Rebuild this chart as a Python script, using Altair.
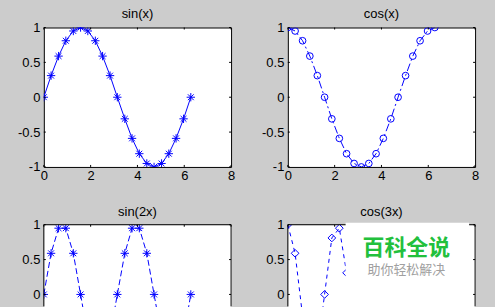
import altair as alt
import pandas as pd

# ---- data ----
x_vals = [0, 0.31, 0.63, 0.94, 1.26, 1.57, 1.88, 2.2, 2.51, 2.83, 3.14,
          3.46, 3.77, 4.08, 4.4, 4.71, 5.03, 5.34, 5.65, 5.97, 6.28]
sin_x = [0, 0.31, 0.59, 0.81, 0.95, 1, 0.95, 0.81, 0.59, 0.31, 0,
         -0.31, -0.59, -0.81, -0.95, -1, -0.95, -0.81, -0.59, -0.31, 0]
cos_x = [1, 0.95, 0.81, 0.59, 0.31, 0, -0.31, -0.59, -0.81, -0.95, -1,
         -0.95, -0.81, -0.59, -0.31, 0, 0.31, 0.59, 0.81, 0.95, 1]
sin_2x = [0, 0.59, 0.95, 0.95, 0.59, 0, -0.59, -0.95, -0.95, -0.59, 0,
          0.59, 0.95, 0.95, 0.59, 0, -0.59, -0.95, -0.95, -0.59, 0]
cos_3x = [1, 0.59, -0.31, -0.95, -0.81, 0, 0.81, 0.95, 0.31, -0.59, -1,
          -0.59, 0.31, 0.95, 0.81, 0, -0.81, -0.95, -0.31, 0.59, 1]
x_ticks = [0, 2, 4, 6, 8]
y_ticks = [-1, -0.5, 0, 0.5, 1]
titles = ["sin(x)", "cos(x)", "sin(2x)", "cos(3x)"]
watermark_title = ["百科全说"]
watermark_sub = ["助你轻松解决"]

# ---- styling ----
BLUE = "#0000ff"
BG = "#cccccc"
FONT = "Liberation Sans"
W = 188
H_TOP = 140
H_BOT = 83
PX_PER_UNIT = 70.0
TICK = 2
ASTERISK = "M-1,0L1,0M0,-1L0,1M-0.7,-0.7L0.7,0.7M-0.7,0.7L0.7,-0.7"
LABEL_EXPR = "(datum.value < 0 ? '-' : '') + format(abs(datum.value), '')"

one_row = pd.DataFrame({"k": [0]})


def panel(title, yvals, shape, msize, dash, top_row, title_offset, extras=()):
    h = H_TOP if top_row else H_BOT
    ydom = [-1, 1] if top_row else [1 - H_BOT / PX_PER_UNIT, 1]
    df = pd.DataFrame({"x": x_vals, "y": yvals})
    xs = alt.Scale(domain=[0, 8], nice=False, zero=False)
    ys = alt.Scale(domain=ydom, nice=False, zero=False)
    if top_row:
        xaxis = alt.Axis(values=x_ticks, title=None, ticks=False, tickSize=0,
                         domain=False, grid=False, labelPadding=3,
                         labelFlush=False, labelOverlap=False)
    else:
        xaxis = None
    yt = [t for t in y_ticks if ydom[0] - 1e-9 <= t <= ydom[1] + 1e-9]
    yaxis = alt.Axis(values=yt, title=None, ticks=False, tickSize=0,
                     domain=False, grid=False, labelPadding=4,
                     labelFlush=False, labelOverlap=False, labelExpr=LABEL_EXPR)
    X = alt.X("x:Q", scale=xs, axis=xaxis)
    Y = alt.Y("y:Q", scale=ys, axis=yaxis)

    lk = dict(color=BLUE, strokeWidth=1, clip=True)
    if dash:
        lk["strokeDash"] = dash
    line = alt.Chart(df).mark_line(**lk).encode(x=X, y=Y)
    pts = alt.Chart(df).mark_point(shape=shape, size=msize, color=BLUE,
                                   filled=False, strokeWidth=1, opacity=1,
                                   clip=True).encode(x=X, y=Y)

    ytk = pd.DataFrame({"y": yt})
    xtk = pd.DataFrame({"x": x_ticks})
    rule = dict(color="black", strokeWidth=1)
    layers = [line, pts]
    layers.append(alt.Chart(ytk).mark_rule(**rule).encode(y=Y, x=alt.value(0), x2=alt.value(TICK)))
    layers.append(alt.Chart(ytk).mark_rule(**rule).encode(y=Y, x=alt.value(W - TICK), x2=alt.value(W)))
    layers.append(alt.Chart(xtk).mark_rule(**rule).encode(x=X, y=alt.value(0), y2=alt.value(TICK)))
    if top_row:
        layers.append(alt.Chart(xtk).mark_rule(**rule).encode(x=X, y=alt.value(h - TICK), y2=alt.value(h)))
    else:
        # visible frame edges (bottom edge lies outside the picture)
        layers.append(alt.Chart(one_row).mark_rule(**rule).encode(x=alt.value(0), y=alt.value(0), y2=alt.value(h - 1)))
        layers.append(alt.Chart(one_row).mark_rule(**rule).encode(x=alt.value(W), y=alt.value(0), y2=alt.value(h - 1)))
        layers.append(alt.Chart(one_row).mark_rule(**rule).encode(x=alt.value(0), x2=alt.value(W), y=alt.value(0)))
    # panel title as a text mark above the frame
    layers.append(alt.Chart(pd.DataFrame({"t": [title]})).mark_text(
        font=FONT, fontSize=13, color="black", align="center",
        baseline="alphabetic").encode(
        text="t:N", x=alt.value(W / 2), y=alt.value(-title_offset)))
    layers.extend(extras)

    props = dict(width=W, height=h)
    if not top_row:
        props["view"] = alt.ViewBackground(fill="white", stroke="white", strokeOpacity=0)
    return alt.layer(*layers).properties(**props)


# invisible pins fixing the canvas extent
pin_tl = alt.Chart(one_row).mark_rule(opacity=0).encode(
    x=alt.value(-43), x2=alt.value(0), y=alt.value(-26))
pin_tr = alt.Chart(one_row).mark_rule(opacity=0).encode(
    x=alt.value(0), x2=alt.value(495 - 288), y=alt.value(-26))

# watermark box in the lower right
wm_box = alt.Chart(one_row).mark_rect(color="white").encode(
    x=alt.value(58), x2=alt.value(182), y=alt.value(-2), y2=alt.value(H_BOT))
wm_t1 = alt.Chart(pd.DataFrame({"t": watermark_title})).mark_text(
    font="Noto Sans CJK SC", fontSize=22, fontWeight="bold", color="#22c03c",
    align="center", baseline="middle").encode(
    text="t:N", x=alt.value(119), y=alt.value(23))
wm_t2 = alt.Chart(pd.DataFrame({"t": watermark_sub})).mark_text(
    font="Noto Sans CJK SC", fontSize=13, color="#a0a0a0",
    align="center", baseline="middle").encode(
    text="t:N", x=alt.value(119), y=alt.value(45))

p1 = panel(titles[0], sin_x, ASTERISK, 70, None, True, 10, [pin_tl])
p2 = panel(titles[1], cos_x, "circle", 45, [8, 3, 2, 3], True, 10, [pin_tr])
p3 = panel(titles[2], sin_2x, ASTERISK, 70, [6, 3], False, 9)
p4 = panel(titles[3], cos_3x, "diamond", 60, [4, 4], False, 9, [wm_box, wm_t1, wm_t2])

chart = (
    alt.concat(p1, p2, p3, p4, columns=2,
               spacing={"row": 58, "column": 57}, bounds="flush")
    .properties(padding=0, background=BG)
    .configure_view(fill="white", stroke="black", strokeWidth=1)
    .configure_axis(labelFont=FONT, labelFontSize=13, labelColor="black")
)

chart.save("out.html", embed_options={"renderer": "svg", "actions": False})
